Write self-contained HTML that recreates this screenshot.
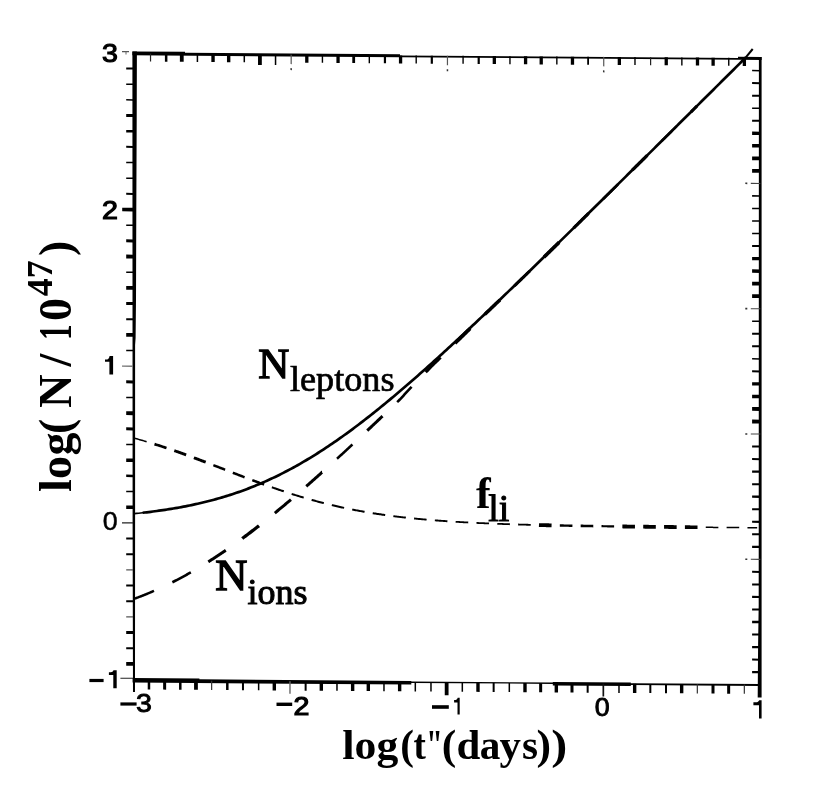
<!DOCTYPE html>
<html><head><meta charset="utf-8"><title>fig</title>
<style>
html,body{margin:0;padding:0;background:#fff;}
body{width:830px;height:792px;overflow:hidden;position:relative;}
svg{position:absolute;left:0;top:0;will-change:transform;}
text{fill:#000;}
.sans{font-family:"Liberation Sans",sans-serif;font-size:26px;stroke:#000;}
.serifb{font-family:"Liberation Serif",serif;font-weight:bold;}
.serif{font-family:"Liberation Serif",serif;}
</style></head><body>
<svg width="830" height="792" viewBox="0 0 830 792">
<rect x="0" y="0" width="830" height="792" fill="#fff"/>
<g transform="matrix(1,0.0072,0,1,0,-0.9684)">
<polygon points="132.40,51.40 136.90,51.40 136.70,120.00 136.30,210.00 136.00,300.00 135.60,338.00 135.10,345.00 135.10,523.00 135.00,692.00 133.00,692.00 132.60,523.00 132.50,300.00" fill="#000"/>
<polygon points="132.40,51.40 185.00,51.40 185.00,52.30 400.00,52.30 400.00,53.60 738.00,53.60 738.00,52.50 761.60,52.50 761.60,55.50 738.00,55.50 738.00,55.30 132.40,55.30" fill="#000"/>
<polygon points="758.90,52.50 761.60,52.50 761.60,640.00 761.60,693.00 757.70,693.00 758.10,640.00 758.70,600.00" fill="#000"/>
<polygon points="132.60,678.10 199.40,678.10 199.40,678.90 411.30,678.90 411.30,679.60 552.80,679.60 552.80,678.90 630.80,678.90 630.80,679.60 760.30,679.60 760.30,681.40 630.80,681.40 630.80,682.50 552.80,682.50 552.80,680.90 411.30,680.90 411.30,682.60 132.60,682.60" fill="#000"/>
<line x1="150.53" y1="53.50" x2="150.53" y2="61.50" stroke="#222" stroke-width="1.20"/>
<line x1="166.16" y1="53.50" x2="166.16" y2="61.50" stroke="#000" stroke-width="2.50"/>
<line x1="181.78" y1="53.50" x2="181.78" y2="61.50" stroke="#000" stroke-width="3.80"/>
<line x1="197.41" y1="53.50" x2="197.41" y2="61.50" stroke="#000" stroke-width="1.50"/>
<line x1="213.04" y1="53.50" x2="213.04" y2="61.50" stroke="#000" stroke-width="3.40"/>
<line x1="228.67" y1="53.50" x2="228.67" y2="61.50" stroke="#000" stroke-width="3.40"/>
<line x1="244.29" y1="53.50" x2="244.29" y2="61.50" stroke="#000" stroke-width="1.50"/>
<line x1="259.92" y1="53.50" x2="259.92" y2="64.00" stroke="#000" stroke-width="3.80"/>
<line x1="275.55" y1="53.50" x2="275.55" y2="64.00" stroke="#000" stroke-width="1.50"/>
<line x1="291.18" y1="53.50" x2="291.18" y2="63.00" stroke="#555" stroke-width="1.20"/>
<line x1="291.18" y1="67.00" x2="291.18" y2="69.00" stroke="#333" stroke-width="1.50"/>
<line x1="306.80" y1="53.50" x2="306.80" y2="61.50" stroke="#000" stroke-width="3.30"/>
<line x1="322.43" y1="53.50" x2="322.43" y2="61.50" stroke="#000" stroke-width="1.40"/>
<line x1="338.06" y1="53.50" x2="338.06" y2="61.50" stroke="#000" stroke-width="3.30"/>
<line x1="353.69" y1="53.50" x2="353.69" y2="61.50" stroke="#000" stroke-width="2.80"/>
<line x1="369.31" y1="53.50" x2="369.31" y2="61.50" stroke="#000" stroke-width="1.40"/>
<line x1="384.94" y1="53.50" x2="384.94" y2="61.50" stroke="#000" stroke-width="2.20"/>
<line x1="400.57" y1="53.50" x2="400.57" y2="61.50" stroke="#000" stroke-width="3.30"/>
<line x1="416.20" y1="53.50" x2="416.20" y2="61.50" stroke="#000" stroke-width="1.40"/>
<line x1="431.82" y1="53.50" x2="431.82" y2="61.50" stroke="#000" stroke-width="2.20"/>
<line x1="447.45" y1="53.50" x2="447.45" y2="63.00" stroke="#555" stroke-width="1.20"/>
<line x1="447.45" y1="67.00" x2="447.45" y2="69.00" stroke="#333" stroke-width="1.50"/>
<line x1="463.08" y1="53.50" x2="463.08" y2="61.50" stroke="#000" stroke-width="1.40"/>
<line x1="478.71" y1="53.50" x2="478.71" y2="61.50" stroke="#000" stroke-width="2.20"/>
<line x1="494.33" y1="53.50" x2="494.33" y2="61.50" stroke="#000" stroke-width="3.30"/>
<line x1="509.96" y1="53.50" x2="509.96" y2="61.50" stroke="#000" stroke-width="1.40"/>
<line x1="525.59" y1="53.50" x2="525.59" y2="61.50" stroke="#000" stroke-width="3.30"/>
<line x1="541.22" y1="53.50" x2="541.22" y2="61.50" stroke="#000" stroke-width="3.30"/>
<line x1="556.84" y1="53.50" x2="556.84" y2="61.50" stroke="#000" stroke-width="1.40"/>
<line x1="572.47" y1="53.50" x2="572.47" y2="61.50" stroke="#000" stroke-width="3.30"/>
<line x1="588.10" y1="53.50" x2="588.10" y2="61.50" stroke="#000" stroke-width="1.80"/>
<line x1="603.73" y1="53.50" x2="603.73" y2="63.00" stroke="#555" stroke-width="1.20"/>
<line x1="603.73" y1="67.00" x2="603.73" y2="69.00" stroke="#333" stroke-width="1.50"/>
<line x1="619.35" y1="53.50" x2="619.35" y2="61.50" stroke="#000" stroke-width="3.30"/>
<line x1="634.98" y1="53.50" x2="634.98" y2="61.50" stroke="#000" stroke-width="1.40"/>
<line x1="650.61" y1="53.50" x2="650.61" y2="61.50" stroke="#222" stroke-width="1.20"/>
<line x1="666.24" y1="53.50" x2="666.24" y2="61.50" stroke="#000" stroke-width="3.30"/>
<line x1="681.86" y1="53.50" x2="681.86" y2="61.50" stroke="#000" stroke-width="1.40"/>
<line x1="697.49" y1="53.50" x2="697.49" y2="61.50" stroke="#000" stroke-width="3.30"/>
<line x1="713.12" y1="53.50" x2="713.12" y2="61.50" stroke="#000" stroke-width="3.30"/>
<line x1="728.75" y1="53.50" x2="728.75" y2="61.50" stroke="#000" stroke-width="1.40"/>
<line x1="744.37" y1="53.50" x2="744.37" y2="61.50" stroke="#000" stroke-width="3.30"/>
<line x1="148.97" y1="680.20" x2="148.97" y2="689.40" stroke="#000" stroke-width="2.50"/>
<line x1="164.64" y1="680.20" x2="164.64" y2="689.40" stroke="#000" stroke-width="3.00"/>
<line x1="180.30" y1="680.20" x2="180.30" y2="689.40" stroke="#000" stroke-width="2.50"/>
<line x1="195.97" y1="680.20" x2="195.97" y2="689.40" stroke="#000" stroke-width="3.80"/>
<line x1="211.64" y1="680.20" x2="211.64" y2="689.40" stroke="#333" stroke-width="1.20"/>
<line x1="227.31" y1="680.20" x2="227.31" y2="689.40" stroke="#000" stroke-width="2.50"/>
<line x1="242.97" y1="680.20" x2="242.97" y2="689.40" stroke="#000" stroke-width="2.00"/>
<line x1="258.64" y1="680.20" x2="258.64" y2="689.40" stroke="#000" stroke-width="1.50"/>
<line x1="274.31" y1="680.20" x2="274.31" y2="689.40" stroke="#000" stroke-width="3.40"/>
<line x1="289.98" y1="680.20" x2="289.98" y2="692.70" stroke="#666" stroke-width="1.40"/>
<line x1="305.64" y1="680.20" x2="305.64" y2="689.40" stroke="#000" stroke-width="2.00"/>
<line x1="321.31" y1="680.20" x2="321.31" y2="689.40" stroke="#000" stroke-width="3.40"/>
<line x1="336.98" y1="680.20" x2="336.98" y2="689.40" stroke="#000" stroke-width="1.50"/>
<line x1="352.65" y1="680.20" x2="352.65" y2="689.40" stroke="#000" stroke-width="3.40"/>
<line x1="368.31" y1="680.20" x2="368.31" y2="689.40" stroke="#000" stroke-width="3.40"/>
<line x1="383.98" y1="680.20" x2="383.98" y2="689.40" stroke="#000" stroke-width="1.50"/>
<line x1="399.65" y1="680.20" x2="399.65" y2="689.40" stroke="#000" stroke-width="3.40"/>
<line x1="415.31" y1="680.20" x2="415.31" y2="689.40" stroke="#000" stroke-width="1.50"/>
<line x1="430.98" y1="680.20" x2="430.98" y2="689.40" stroke="#000" stroke-width="1.50"/>
<line x1="446.65" y1="680.20" x2="446.65" y2="693.00" stroke="#000" stroke-width="3.80"/>
<line x1="462.32" y1="680.20" x2="462.32" y2="689.40" stroke="#000" stroke-width="1.50"/>
<line x1="477.99" y1="680.20" x2="477.99" y2="689.40" stroke="#000" stroke-width="3.40"/>
<line x1="493.65" y1="680.20" x2="493.65" y2="689.40" stroke="#000" stroke-width="2.00"/>
<line x1="509.32" y1="680.20" x2="509.32" y2="689.40" stroke="#000" stroke-width="1.50"/>
<line x1="524.99" y1="680.20" x2="524.99" y2="689.40" stroke="#000" stroke-width="3.40"/>
<line x1="540.65" y1="680.20" x2="540.65" y2="689.40" stroke="#000" stroke-width="3.00"/>
<line x1="556.32" y1="680.20" x2="556.32" y2="689.40" stroke="#000" stroke-width="3.40"/>
<line x1="571.99" y1="680.20" x2="571.99" y2="689.40" stroke="#000" stroke-width="3.00"/>
<line x1="587.66" y1="680.20" x2="587.66" y2="689.40" stroke="#000" stroke-width="2.00"/>
<line x1="603.33" y1="680.20" x2="603.33" y2="693.20" stroke="#111" stroke-width="1.70"/>
<line x1="618.99" y1="680.20" x2="618.99" y2="689.40" stroke="#000" stroke-width="1.50"/>
<line x1="634.66" y1="680.20" x2="634.66" y2="689.40" stroke="#000" stroke-width="3.40"/>
<line x1="650.33" y1="680.20" x2="650.33" y2="689.40" stroke="#000" stroke-width="2.00"/>
<line x1="666.00" y1="680.20" x2="666.00" y2="689.40" stroke="#000" stroke-width="2.00"/>
<line x1="681.66" y1="680.20" x2="681.66" y2="689.40" stroke="#000" stroke-width="3.40"/>
<line x1="697.33" y1="680.20" x2="697.33" y2="689.40" stroke="#333" stroke-width="1.20"/>
<line x1="713.00" y1="680.20" x2="713.00" y2="689.40" stroke="#000" stroke-width="3.00"/>
<line x1="728.66" y1="680.20" x2="728.66" y2="689.40" stroke="#000" stroke-width="3.00"/>
<line x1="744.33" y1="680.20" x2="744.33" y2="689.40" stroke="#333" stroke-width="1.20"/>
<line x1="126.20" y1="68.57" x2="133.00" y2="68.57" stroke="#000" stroke-width="2.00"/>
<line x1="126.20" y1="84.23" x2="133.00" y2="84.23" stroke="#000" stroke-width="1.50"/>
<line x1="126.20" y1="99.90" x2="133.00" y2="99.90" stroke="#000" stroke-width="1.50"/>
<line x1="126.20" y1="115.57" x2="133.00" y2="115.57" stroke="#000" stroke-width="3.00"/>
<line x1="126.20" y1="131.24" x2="133.00" y2="131.24" stroke="#000" stroke-width="2.50"/>
<line x1="126.20" y1="146.91" x2="133.00" y2="146.91" stroke="#000" stroke-width="2.00"/>
<line x1="126.20" y1="162.57" x2="133.00" y2="162.57" stroke="#000" stroke-width="1.50"/>
<line x1="126.20" y1="178.24" x2="133.00" y2="178.24" stroke="#000" stroke-width="1.50"/>
<line x1="126.20" y1="193.91" x2="133.00" y2="193.91" stroke="#000" stroke-width="2.00"/>
<line x1="122.20" y1="209.58" x2="133.00" y2="209.58" stroke="#000" stroke-width="3.70"/>
<line x1="126.20" y1="225.24" x2="133.00" y2="225.24" stroke="#000" stroke-width="1.50"/>
<line x1="126.20" y1="240.91" x2="133.00" y2="240.91" stroke="#000" stroke-width="3.00"/>
<line x1="126.20" y1="256.58" x2="133.00" y2="256.58" stroke="#000" stroke-width="3.80"/>
<line x1="126.20" y1="272.25" x2="133.00" y2="272.25" stroke="#000" stroke-width="1.50"/>
<line x1="126.20" y1="287.91" x2="133.00" y2="287.91" stroke="#000" stroke-width="3.80"/>
<line x1="126.20" y1="303.58" x2="133.00" y2="303.58" stroke="#000" stroke-width="3.00"/>
<line x1="126.20" y1="319.25" x2="133.00" y2="319.25" stroke="#000" stroke-width="2.00"/>
<line x1="126.20" y1="334.91" x2="133.00" y2="334.91" stroke="#000" stroke-width="3.80"/>
<line x1="126.20" y1="350.58" x2="133.00" y2="350.58" stroke="#000" stroke-width="1.50"/>
<line x1="122.00" y1="366.25" x2="133.00" y2="366.25" stroke="#777" stroke-width="1.40"/>
<line x1="126.20" y1="381.92" x2="133.00" y2="381.92" stroke="#000" stroke-width="3.00"/>
<line x1="126.20" y1="397.59" x2="133.00" y2="397.59" stroke="#000" stroke-width="1.50"/>
<line x1="126.20" y1="413.25" x2="133.00" y2="413.25" stroke="#000" stroke-width="3.80"/>
<line x1="126.20" y1="428.92" x2="133.00" y2="428.92" stroke="#000" stroke-width="3.00"/>
<line x1="126.20" y1="444.59" x2="133.00" y2="444.59" stroke="#000" stroke-width="1.50"/>
<line x1="126.20" y1="460.25" x2="133.00" y2="460.25" stroke="#000" stroke-width="3.40"/>
<line x1="126.20" y1="475.92" x2="133.00" y2="475.92" stroke="#000" stroke-width="2.50"/>
<line x1="126.20" y1="491.59" x2="133.00" y2="491.59" stroke="#000" stroke-width="1.50"/>
<line x1="126.20" y1="507.26" x2="133.00" y2="507.26" stroke="#000" stroke-width="3.40"/>
<line x1="122.00" y1="522.92" x2="133.00" y2="522.92" stroke="#222" stroke-width="1.20"/>
<line x1="126.20" y1="538.59" x2="133.00" y2="538.59" stroke="#000" stroke-width="2.00"/>
<line x1="126.20" y1="554.26" x2="133.00" y2="554.26" stroke="#000" stroke-width="2.00"/>
<line x1="126.20" y1="569.93" x2="133.00" y2="569.93" stroke="#555" stroke-width="1.20"/>
<line x1="126.20" y1="585.60" x2="133.00" y2="585.60" stroke="#000" stroke-width="2.00"/>
<line x1="126.20" y1="601.26" x2="133.00" y2="601.26" stroke="#000" stroke-width="2.00"/>
<line x1="126.20" y1="616.93" x2="133.00" y2="616.93" stroke="#555" stroke-width="1.20"/>
<line x1="126.20" y1="632.60" x2="133.00" y2="632.60" stroke="#000" stroke-width="3.00"/>
<line x1="126.20" y1="648.26" x2="133.00" y2="648.26" stroke="#000" stroke-width="2.00"/>
<line x1="126.20" y1="663.93" x2="133.00" y2="663.93" stroke="#000" stroke-width="3.80"/>
<line x1="122.00" y1="51.70" x2="129.00" y2="51.70" stroke="#555" stroke-width="1.20"/>
<line x1="126.00" y1="51.50" x2="126.00" y2="54.50" stroke="#666" stroke-width="1.00"/>
<line x1="120.40" y1="678.30" x2="133.00" y2="678.30" stroke="#222" stroke-width="1.10"/>
<line x1="752.10" y1="66.13" x2="760.30" y2="66.13" stroke="#000" stroke-width="1.50"/>
<line x1="752.10" y1="78.66" x2="760.30" y2="78.66" stroke="#000" stroke-width="2.00"/>
<line x1="752.10" y1="91.20" x2="760.30" y2="91.20" stroke="#000" stroke-width="2.00"/>
<line x1="752.10" y1="103.73" x2="760.30" y2="103.73" stroke="#000" stroke-width="1.50"/>
<line x1="752.10" y1="116.26" x2="760.30" y2="116.26" stroke="#000" stroke-width="2.00"/>
<line x1="752.10" y1="128.79" x2="760.30" y2="128.79" stroke="#000" stroke-width="3.30"/>
<line x1="752.10" y1="141.32" x2="760.30" y2="141.32" stroke="#000" stroke-width="3.50"/>
<line x1="752.10" y1="153.86" x2="760.30" y2="153.86" stroke="#000" stroke-width="3.80"/>
<line x1="752.10" y1="166.39" x2="760.30" y2="166.39" stroke="#000" stroke-width="3.80"/>
<line x1="750.80" y1="178.92" x2="760.30" y2="178.92" stroke="#444" stroke-width="1.10"/>
<line x1="745.30" y1="178.92" x2="747.30" y2="178.92" stroke="#333" stroke-width="1.60"/>
<line x1="752.10" y1="191.45" x2="760.30" y2="191.45" stroke="#000" stroke-width="1.60"/>
<line x1="752.10" y1="203.98" x2="760.30" y2="203.98" stroke="#000" stroke-width="1.60"/>
<line x1="752.10" y1="216.52" x2="760.30" y2="216.52" stroke="#000" stroke-width="1.60"/>
<line x1="752.10" y1="229.05" x2="760.30" y2="229.05" stroke="#000" stroke-width="1.60"/>
<line x1="752.10" y1="241.58" x2="760.30" y2="241.58" stroke="#000" stroke-width="2.00"/>
<line x1="752.10" y1="254.11" x2="760.30" y2="254.11" stroke="#000" stroke-width="3.30"/>
<line x1="752.10" y1="266.64" x2="760.30" y2="266.64" stroke="#000" stroke-width="3.50"/>
<line x1="752.10" y1="279.18" x2="760.30" y2="279.18" stroke="#000" stroke-width="3.80"/>
<line x1="752.10" y1="291.71" x2="760.30" y2="291.71" stroke="#000" stroke-width="3.80"/>
<line x1="750.80" y1="304.24" x2="760.30" y2="304.24" stroke="#444" stroke-width="1.10"/>
<line x1="745.30" y1="304.24" x2="747.30" y2="304.24" stroke="#333" stroke-width="1.60"/>
<line x1="752.10" y1="316.77" x2="760.30" y2="316.77" stroke="#000" stroke-width="1.50"/>
<line x1="752.10" y1="329.30" x2="760.30" y2="329.30" stroke="#000" stroke-width="2.00"/>
<line x1="752.10" y1="341.84" x2="760.30" y2="341.84" stroke="#000" stroke-width="2.00"/>
<line x1="752.10" y1="354.37" x2="760.30" y2="354.37" stroke="#000" stroke-width="1.50"/>
<line x1="752.10" y1="366.90" x2="760.30" y2="366.90" stroke="#000" stroke-width="2.00"/>
<line x1="752.10" y1="379.43" x2="760.30" y2="379.43" stroke="#000" stroke-width="3.30"/>
<line x1="752.10" y1="391.96" x2="760.30" y2="391.96" stroke="#000" stroke-width="3.50"/>
<line x1="752.10" y1="404.50" x2="760.30" y2="404.50" stroke="#000" stroke-width="3.80"/>
<line x1="752.10" y1="417.03" x2="760.30" y2="417.03" stroke="#000" stroke-width="3.80"/>
<line x1="750.80" y1="429.56" x2="760.30" y2="429.56" stroke="#444" stroke-width="1.10"/>
<line x1="745.30" y1="429.56" x2="747.30" y2="429.56" stroke="#333" stroke-width="1.60"/>
<line x1="752.10" y1="442.09" x2="760.30" y2="442.09" stroke="#000" stroke-width="2.00"/>
<line x1="752.10" y1="454.62" x2="760.30" y2="454.62" stroke="#000" stroke-width="2.00"/>
<line x1="752.10" y1="467.16" x2="760.30" y2="467.16" stroke="#000" stroke-width="2.20"/>
<line x1="752.10" y1="479.69" x2="760.30" y2="479.69" stroke="#000" stroke-width="2.00"/>
<line x1="752.10" y1="492.22" x2="760.30" y2="492.22" stroke="#000" stroke-width="2.40"/>
<line x1="752.10" y1="504.75" x2="760.30" y2="504.75" stroke="#000" stroke-width="2.00"/>
<line x1="752.10" y1="517.28" x2="760.30" y2="517.28" stroke="#000" stroke-width="2.20"/>
<line x1="752.10" y1="529.82" x2="760.30" y2="529.82" stroke="#000" stroke-width="2.00"/>
<line x1="752.10" y1="542.35" x2="760.30" y2="542.35" stroke="#000" stroke-width="2.20"/>
<line x1="750.80" y1="554.88" x2="760.30" y2="554.88" stroke="#444" stroke-width="1.10"/>
<line x1="745.30" y1="554.88" x2="747.30" y2="554.88" stroke="#333" stroke-width="1.60"/>
<line x1="752.10" y1="567.41" x2="760.30" y2="567.41" stroke="#000" stroke-width="2.00"/>
<line x1="752.10" y1="579.94" x2="760.30" y2="579.94" stroke="#000" stroke-width="2.00"/>
<line x1="752.10" y1="592.48" x2="760.30" y2="592.48" stroke="#000" stroke-width="2.20"/>
<line x1="752.10" y1="605.01" x2="760.30" y2="605.01" stroke="#000" stroke-width="2.00"/>
<line x1="752.10" y1="617.54" x2="760.30" y2="617.54" stroke="#000" stroke-width="2.40"/>
<line x1="752.10" y1="630.07" x2="760.30" y2="630.07" stroke="#000" stroke-width="2.00"/>
<line x1="752.10" y1="642.60" x2="760.30" y2="642.60" stroke="#000" stroke-width="2.20"/>
<line x1="752.10" y1="655.14" x2="760.30" y2="655.14" stroke="#000" stroke-width="2.00"/>
<line x1="752.10" y1="667.67" x2="760.30" y2="667.67" stroke="#000" stroke-width="2.20"/>
</g>
<path d="M134.50 513.62 L136.54 513.41 L138.58 513.20 L140.62 512.98 L142.65 512.75 L144.69 512.52" fill="none" stroke="#000" stroke-width="1.6"/>
<path d="M142.65 512.75 L144.69 512.52 L146.73 512.29 L148.77 512.04 L150.81 511.79 L152.85 511.53 L154.88 511.27 L156.92 510.99 L158.96 510.71 L161.00 510.43 L163.04 510.13 L165.07 509.83 L167.11 509.51 L169.15 509.19 L171.19 508.87 L173.23 508.53 L175.27 508.18 L177.31 507.83 L179.34 507.46 L181.38 507.09 L183.42 506.70 L185.46 506.31 L187.50 505.91 L189.54 505.50 L191.57 505.07 L193.61 504.64 L195.65 504.19 L197.69 503.74 L199.73 503.27 L201.76 502.80 L203.80 502.31 L205.84 501.81 L207.88 501.30 L209.92 500.77 L211.96 500.24 L213.99 499.69 L216.03 499.13 L218.07 498.56 L220.11 497.97 L222.15 497.38 L224.19 496.76 L226.22 496.14 L228.26 495.50 L230.30 494.85 L232.34 494.19 L234.38 493.51 L236.42 492.82 L238.46 492.11 L240.49 491.40 L242.53 490.66 L244.57 489.91 L246.61 489.15 L248.65 488.37 L250.69 487.58 L252.72 486.78 L254.76 485.95 L256.80 485.12 L258.84 484.27 L260.88 483.40 L262.91 482.52 L264.95 481.63 L266.99 480.71 L269.03 479.79 L271.07 478.85 L273.11 477.89 L275.14 476.92 L277.18 475.93 L279.22 474.93 L281.26 473.91 L283.30 472.87 L285.34 471.82 L287.37 470.76 L289.41 469.68 L291.45 468.58 L293.49 467.47 L295.53 466.35 L297.57 465.21 L299.61 464.05 L301.64 462.88 L303.68 461.70 L305.72 460.50 L307.76 459.28 L309.80 458.05 L311.83 456.81 L313.87 455.55 L315.91 454.28 L317.95 452.99 L319.99 451.69 L322.03 450.37 L324.06 449.04 L326.10 447.70 L328.14 446.35 L330.18 444.98 L332.22 443.59 L334.26 442.20 L336.29 440.79 L338.33 439.36 L340.37 437.93 L342.41 436.48 L344.45 435.02 L346.49 433.55 L348.52 432.06 L350.56 430.57 L352.60 429.06 L354.64 427.54 L356.68 426.01 L358.72 424.47 L360.75 422.91 L362.79 421.35 L364.83 419.77 L366.87 418.19 L368.91 416.59 L370.95 414.99 L372.99 413.37 L375.02 411.75 L377.06 410.11 L379.10 408.47 L381.14 406.81 L383.18 405.15 L385.22 403.48 L387.25 401.80 L389.29 400.11 L391.33 398.41 L393.37 396.70 L395.41 394.99 L397.44 393.27 L399.48 391.54 L401.52 389.80 L403.56 388.06 L405.60 386.30 L407.64 384.55 L409.68 382.78 L411.71 381.01 L413.75 379.23 L415.79 377.44 L417.83 375.65 L419.87 373.85 L421.90 372.05 L423.94 370.24 L425.98 368.42 L428.02 366.60 L430.06 364.77 L432.10 362.94 L434.13 361.10 L436.17 359.26 L438.21 357.41 L440.25 355.56 L442.29 353.70 L444.33 351.84 L446.37 349.97 L448.40 348.10 L450.44 346.22 L452.48 344.34 L454.52 342.46 L456.56 340.57 L458.60 338.68 L460.63 336.79 L462.67 334.89 L464.71 332.98 L466.75 331.08 L468.79 329.17 L470.82 327.25 L472.86 325.34 L474.90 323.42 L476.94 321.50 L478.98 319.57 L481.02 317.64 L483.05 315.71 L485.09 313.78 L487.13 311.84 L489.17 309.90 L491.21 307.96 L493.25 306.02 L495.28 304.07 L497.32 302.12 L499.36 300.17 L501.40 298.22 L503.44 296.26 L505.48 294.31 L507.51 292.35 L509.55 290.38 L511.59 288.42 L513.63 286.46 L515.67 284.49 L517.71 282.52 L519.74 280.55 L521.78 278.58 L523.82 276.60 L525.86 274.63 L527.90 272.65 L529.94 270.67 L531.97 268.69 L534.01 266.71 L536.05 264.73 L538.09 262.75 L540.13 260.76 L542.17 258.77 L544.20 256.79 L546.24 254.80 L548.28 252.81 L550.32 250.82 L552.36 248.83 L554.40 246.83 L556.43 244.84 L558.47 242.84 L560.51 240.85 L562.55 238.85 L564.59 236.85 L566.63 234.85 L568.66 232.85 L570.70 230.85 L572.74 228.85 L574.78 226.85 L576.82 224.85 L578.86 222.84 L580.89 220.84 L582.93 218.83 L584.97 216.83 L587.01 214.82 L589.05 212.81 L591.09 210.81 L593.12 208.80 L595.16 206.79 L597.20 204.78 L599.24 202.77 L601.28 200.76 L603.32 198.75 L605.36 196.74 L607.39 194.72 L609.43 192.71 L611.47 190.70 L613.51 188.69 L615.55 186.67 L617.59 184.66 L619.62 182.64 L621.66 180.63 L623.70 178.61 L625.74 176.60 L627.78 174.58 L629.82 172.56 L631.85 170.55 L633.89 168.53 L635.93 166.51 L637.97 164.49 L640.01 162.48 L642.04 160.46 L644.08 158.44 L646.12 156.42 L648.16 154.40 L650.20 152.38 L652.24 150.36 L654.27 148.34 L656.31 146.32 L658.35 144.30 L660.39 142.28 L662.43 140.26 L664.47 138.24 L666.50 136.22 L668.54 134.19 L670.58 132.17 L672.62 130.15 L674.66 128.13 L676.70 126.11 L678.74 124.08 L680.77 122.06 L682.81 120.04 L684.85 118.01 L686.89 115.99 L688.93 113.97 L690.96 111.94 L693.00 109.92 L695.04 107.90 L697.08 105.87 L699.12 103.85 L701.16 101.83 L703.19 99.80 L705.23 97.78 L707.27 95.75 L709.31 93.73 L711.35 91.70 L713.39 89.68 L715.42 87.65 L717.46 85.63 L719.50 83.60 L721.54 81.58 L723.58 79.55 L725.62 77.53 L727.65 75.50 L729.69 73.48 L731.73 71.45 L733.77 69.43 L735.81 67.40 L737.85 65.37 L739.88 63.35 L741.92 61.32 L743.96 59.30 L746.00 57.27" fill="none" stroke="#000" stroke-width="2.7"/>
<path d="M745.0 58.4 L752.7 49.0" fill="none" stroke="#000" stroke-width="2.0"/>
<path d="M134.50 598.70 L135.44 598.35 L136.38 598.00 L137.31 597.65 L138.25 597.30 L139.19 596.94 L140.12 596.58 L141.06 596.22 L142.00 595.85 L142.94 595.48 L143.88 595.11 L144.81 594.73 L145.75 594.35 L146.69 593.97 L147.62 593.58 L148.56 593.20 L149.50 592.80 L150.44 592.41 L151.38 592.01 L152.31 591.61 L153.25 591.21 L153.99 590.88" fill="none" stroke="#000" stroke-width="2.50"/>
<path d="M172.36 582.26 L172.94 581.97 L173.87 581.49 L174.81 581.01 L175.75 580.53 L176.69 580.05 L177.62 579.56 L178.56 579.07 L179.50 578.57 L180.44 578.07 L181.37 577.57 L182.31 577.07 L183.25 576.56 L184.19 576.05 L185.12 575.53 L186.06 575.02 L187.00 574.50 L187.94 573.97 L188.87 573.45 L189.81 572.92 L190.75 572.38 L190.86 572.32" fill="none" stroke="#000" stroke-width="2.60"/>
<path d="M208.25 561.85 L208.56 561.65 L209.50 561.06 L210.44 560.46 L211.38 559.86 L212.31 559.26 L213.25 558.65 L214.19 558.04 L215.12 557.43 L216.06 556.81 L217.00 556.19 L217.94 555.57 L218.88 554.95 L219.81 554.32 L220.75 553.69 L221.69 553.06 L222.62 552.42 L223.56 551.78 L224.50 551.14 L225.44 550.50 L225.77 550.27" fill="none" stroke="#000" stroke-width="3.00"/>
<path d="M242.28 538.47 L242.31 538.44 L243.25 537.75 L244.19 537.05 L245.13 536.36 L246.06 535.65 L247.00 534.95 L247.94 534.25 L248.88 533.54 L249.81 532.83 L250.75 532.11 L251.69 531.40 L252.63 530.68 L253.56 529.96 L254.50 529.24 L255.44 528.51 L256.38 527.79 L257.31 527.06 L258.25 526.33 L258.99 525.75" fill="none" stroke="#000" stroke-width="3.30"/>
<path d="M274.83 513.05 L275.12 512.81 L276.06 512.04 L277.00 511.27 L277.94 510.50 L278.88 509.72 L279.81 508.95 L280.75 508.17 L281.69 507.39 L282.62 506.60 L283.56 505.82 L284.50 505.04 L285.44 504.25 L286.38 503.46 L287.31 502.67 L288.25 501.88 L289.19 501.08 L290.12 500.29 L290.95 499.59" fill="none" stroke="#000" stroke-width="3.00"/>
<path d="M306.30 486.31 L307.00 485.70 L307.94 484.88 L308.88 484.06 L309.81 483.23 L310.75 482.40 L311.69 481.57 L312.62 480.74 L313.56 479.91 L314.50 479.08 L315.44 478.24 L316.38 477.41 L317.31 476.57 L318.25 475.74 L319.19 474.90 L320.12 474.06 L321.06 473.22 L322.00 472.37 L322.01 472.37" fill="none" stroke="#000" stroke-width="3.00"/>
<path d="M337.03 458.72 L337.94 457.90 L338.88 457.04 L339.81 456.17 L340.75 455.31 L341.69 454.45 L342.62 453.58 L343.56 452.72 L344.50 451.85 L345.44 450.99 L346.38 450.12 L347.31 449.25 L348.25 448.38 L349.19 447.51 L350.12 446.64 L351.06 445.77 L352.00 444.90 L352.46 444.47" fill="none" stroke="#000" stroke-width="2.60"/>
<path d="M367.27 430.59 L367.94 429.95 L368.88 429.07 L369.81 428.18 L370.75 427.30 L371.69 426.41 L372.62 425.52 L373.56 424.63 L374.50 423.74 L375.44 422.86 L376.38 421.97 L377.31 421.08 L378.25 420.18 L379.19 419.29 L380.12 418.40 L381.06 417.51 L382.00 416.61 L382.50 416.13" fill="none" stroke="#000" stroke-width="3.00"/>
<path d="M397.17 402.10 L397.94 401.36 L398.88 400.46 L399.81 399.55 L400.75 398.57 L401.69 397.55 L402.63 396.53 L403.56 395.51 L404.50 394.49 L405.44 393.48 L406.38 392.47 L407.31 391.46 L408.25 390.46 L409.19 389.45 L410.13 388.45 L411.06 387.45 L411.62 386.86" fill="none" stroke="#000" stroke-width="2.60"/>
<path d="M425.64 372.18 L426.06 371.74 L427.00 370.78 L427.94 369.81 L428.88 368.85 L429.81 367.88 L430.75 366.92 L431.69 365.98 L432.62 365.06 L433.56 364.15 L434.50 363.23 L435.44 362.32 L436.38 361.40 L437.31 360.49 L438.25 359.57 L439.19 358.66 L440.13 357.74 L440.51 357.37" fill="none" stroke="#000" stroke-width="3.20"/>
<path d="M455.06 343.21 L455.12 343.15 L456.06 342.23 L457.00 341.32 L457.94 340.41 L458.88 339.50 L459.81 338.59 L460.75 337.68 L461.69 336.77 L462.62 335.86 L463.56 334.95 L464.50 334.03 L465.44 333.12 L466.38 332.21 L467.31 331.30 L468.25 330.39 L469.19 329.48 L470.12 328.57" fill="none" stroke="#000" stroke-width="3.60"/>
<path d="M484.74 314.49 L485.13 314.13 L486.06 313.23 L487.00 312.34 L487.94 311.44 L488.87 310.54 L489.81 309.65 L490.75 308.75 L491.69 307.85 L492.63 306.95 L493.56 306.05 L494.50 305.15 L495.44 304.25 L496.38 303.35 L497.31 302.45 L498.25 301.55 L499.19 300.65 L499.90 299.96" fill="none" stroke="#000" stroke-width="3.40"/>
<path d="M514.51 285.86 L515.12 285.26 L516.06 284.35 L517.00 283.44 L517.94 282.53 L518.88 281.62 L519.81 280.71 L520.75 279.80 L521.69 278.89 L522.62 277.98 L523.56 277.07 L524.50 276.16 L525.44 275.25 L526.38 274.34 L527.31 273.43 L528.25 272.51 L529.19 271.60 L529.57 271.23" fill="none" stroke="#000" stroke-width="3.00"/>
<path d="M544.10 257.05 L544.19 256.97 L545.12 256.05 L546.06 255.13 L547.00 254.21 L547.94 253.30 L548.88 252.38 L549.81 251.46 L550.75 250.54 L551.69 249.63 L552.62 248.71 L553.56 247.79 L554.50 246.87 L555.44 245.95 L556.38 245.03 L557.31 244.11 L558.25 243.19 L559.10 242.36" fill="none" stroke="#000" stroke-width="3.60"/>
<path d="M573.58 228.13 L574.19 227.54 L575.12 226.61 L576.06 225.69 L577.00 224.77 L577.94 223.84 L578.88 222.92 L579.81 222.00 L580.75 221.08 L581.69 220.15 L582.62 219.23 L583.56 218.30 L584.50 217.38 L585.44 216.46 L586.38 215.53 L587.31 214.61 L588.25 213.68 L588.55 213.39" fill="none" stroke="#000" stroke-width="3.20"/>
<path d="M602.99 199.13 L603.25 198.88 L604.19 197.96 L605.12 197.03 L606.06 196.10 L607.00 195.18 L607.94 194.25 L608.88 193.32 L609.81 192.40 L610.75 191.47 L611.69 190.54 L612.62 189.62 L613.56 188.69 L614.50 187.76 L615.44 186.84 L616.38 185.91 L617.31 184.98 L617.93 184.37" fill="none" stroke="#000" stroke-width="2.60"/>
<path d="M632.36 170.09 L633.25 169.21 L634.19 168.28 L635.12 167.35 L636.06 166.42 L637.00 165.49 L637.94 164.57 L638.88 163.64 L639.81 162.71 L640.75 161.78 L641.69 160.85 L642.62 159.92 L643.56 158.99 L644.50 158.06 L645.44 157.13 L646.38 156.21 L647.28 155.31" fill="none" stroke="#000" stroke-width="3.20"/>
<path d="M661.69 141.02 L662.31 140.40 L663.25 139.47 L664.19 138.54 L665.12 137.61 L666.06 136.68 L667.00 135.75 L667.94 134.82 L668.88 133.89 L669.81 132.96 L670.75 132.03 L671.69 131.10 L672.62 130.17 L673.56 129.24 L674.50 128.31 L675.44 127.38 L676.38 126.45 L676.60 126.23" fill="none" stroke="#000" stroke-width="2.40"/>
<path d="M691.00 111.92 L691.38 111.56 L692.31 110.63 L693.25 109.69 L694.19 108.76 L695.13 107.83 L696.06 106.90 L697.00 105.97" fill="none" stroke="#000" stroke-width="3.00"/>
<path d="M134.50 438.22 L135.54 438.51 L136.58 438.79 L137.61 439.08 L138.65 439.38 L139.69 439.67 L140.73 439.97 L141.76 440.26 L142.80 440.56 L143.84 440.87 L144.88 441.17 L145.92 441.48 L146.61 441.69" fill="none" stroke="#000" stroke-width="1.50"/>
<path d="M154.50 444.10 L155.26 444.34 L156.29 444.67 L157.33 444.99 L158.37 445.33 L159.41 445.66 L160.44 446.00 L161.48 446.33 L162.52 446.67 L163.56 447.02 L164.60 447.36 L165.63 447.70 L166.49 447.99" fill="none" stroke="#000" stroke-width="2.70"/>
<path d="M174.29 450.66 L174.97 450.89 L176.01 451.25 L177.05 451.62 L178.09 451.98 L179.12 452.35 L180.16 452.72 L181.20 453.09 L182.24 453.46 L183.27 453.84 L184.31 454.21 L185.35 454.59 L186.16 454.88" fill="none" stroke="#000" stroke-width="2.90"/>
<path d="M193.90 457.74 L194.69 458.03 L195.73 458.42 L196.77 458.81 L197.80 459.20 L198.84 459.59 L199.88 459.99 L200.92 460.38 L201.95 460.77 L202.99 461.17 L204.03 461.56 L205.07 461.96 L205.69 462.20" fill="none" stroke="#000" stroke-width="2.90"/>
<path d="M213.39 465.16 L214.41 465.56 L215.45 465.96 L216.48 466.36 L217.52 466.77 L218.56 467.17 L219.60 467.57 L220.63 467.98 L221.67 468.38 L222.71 468.78 L223.75 469.19 L224.79 469.59 L225.13 469.72" fill="none" stroke="#000" stroke-width="2.50"/>
<path d="M232.82 472.71 L233.09 472.81 L234.12 473.22 L235.16 473.62 L236.20 474.02 L237.24 474.42 L238.28 474.82 L239.31 475.22 L240.35 475.62 L241.39 476.02 L242.43 476.42 L243.46 476.81 L244.50 477.21 L244.58 477.24" fill="none" stroke="#000" stroke-width="2.50"/>
<path d="M252.30 480.16 L252.80 480.35 L253.84 480.74 L254.88 481.13 L255.92 481.52 L256.96 481.90 L257.99 482.28 L259.03 482.67 L260.07 483.05 L261.11 483.43 L262.14 483.81 L263.18 484.19 L264.12 484.52" fill="none" stroke="#000" stroke-width="2.50"/>
<path d="M271.89 487.30 L272.52 487.52 L273.56 487.88 L274.60 488.24 L275.64 488.60 L276.67 488.96 L277.71 489.32 L278.75 489.67 L279.79 490.02 L280.82 490.37 L281.86 490.72 L282.90 491.07 L283.81 491.37" fill="none" stroke="#000" stroke-width="2.10"/>
<path d="M291.66 493.92 L292.24 494.11 L293.28 494.44 L294.32 494.76 L295.35 495.09 L296.39 495.41 L297.43 495.73 L298.47 496.04 L299.50 496.36 L300.54 496.67 L301.58 496.98 L302.62 497.29 L303.65 497.60 L303.70 497.61" fill="none" stroke="#000" stroke-width="2.00"/>
<path d="M311.63 499.89 L311.96 499.98 L312.99 500.27 L314.03 500.55 L315.07 500.83 L316.11 501.11 L317.15 501.39 L318.18 501.67 L319.22 501.94 L320.26 502.22 L321.30 502.49 L322.33 502.75 L323.37 503.02 L323.81 503.13" fill="none" stroke="#000" stroke-width="2.00"/>
<path d="M331.82 505.10 L332.71 505.31 L333.75 505.55 L334.79 505.79 L335.83 506.03 L336.86 506.27 L337.90 506.50 L338.94 506.73 L339.98 506.96 L341.01 507.19 L342.05 507.42 L343.09 507.64 L344.11 507.86" fill="none" stroke="#000" stroke-width="2.00"/>
<path d="M352.20 509.51 L352.43 509.56 L353.47 509.76 L354.51 509.96 L355.54 510.16 L356.58 510.36 L357.62 510.55 L358.66 510.75 L359.69 510.94 L360.73 511.13 L361.77 511.31 L362.81 511.50 L363.85 511.68 L364.58 511.81" fill="none" stroke="#000" stroke-width="2.00"/>
<path d="M372.72 513.17 L373.18 513.24 L374.22 513.40 L375.26 513.57 L376.30 513.73 L377.34 513.89 L378.37 514.04 L379.41 514.20 L380.45 514.35 L381.49 514.50 L382.52 514.65 L383.56 514.80 L384.60 514.95 L385.18 515.03" fill="none" stroke="#000" stroke-width="2.00"/>
<path d="M393.36 516.12 L393.94 516.20 L394.98 516.33 L396.02 516.46 L397.05 516.58 L398.09 516.71 L399.13 516.83 L400.17 516.96 L401.20 517.08 L402.24 517.20 L403.28 517.32 L404.32 517.44 L405.36 517.55 L405.87 517.61" fill="none" stroke="#000" stroke-width="1.90"/>
<path d="M414.08 518.47 L414.70 518.54 L415.73 518.64 L416.77 518.74 L417.81 518.84 L418.85 518.94 L419.88 519.04 L420.92 519.14 L421.96 519.23 L423.00 519.33 L424.04 519.42 L425.07 519.51 L426.11 519.60 L426.62 519.65" fill="none" stroke="#000" stroke-width="1.90"/>
<path d="M434.84 520.33 L435.45 520.37 L436.49 520.45 L437.53 520.53 L438.56 520.61 L439.60 520.69 L440.64 520.77 L441.68 520.84 L442.71 520.92 L443.75 520.99 L444.79 521.06 L445.83 521.14 L446.87 521.21 L447.41 521.24" fill="none" stroke="#000" stroke-width="1.90"/>
<path d="M455.64 521.78 L456.21 521.81 L457.24 521.87 L458.28 521.93 L459.32 522.00 L460.36 522.06 L461.39 522.12 L462.43 522.18 L463.47 522.23 L464.51 522.29 L465.55 522.35 L466.58 522.41 L467.62 522.46 L468.22 522.49" fill="none" stroke="#000" stroke-width="1.80"/>
<path d="M476.46 522.91 L476.96 522.93 L478.00 522.98 L479.04 523.03 L480.07 523.08 L481.11 523.12 L482.15 523.17 L483.19 523.22 L484.23 523.26 L485.26 523.31 L486.30 523.35 L487.34 523.40 L488.38 523.44 L489.05 523.47" fill="none" stroke="#000" stroke-width="1.80"/>
<path d="M497.29 523.79 L497.72 523.81 L498.75 523.85 L499.79 523.89 L500.83 523.93 L501.87 523.96 L502.90 524.00 L503.94 524.04 L504.98 524.07 L506.02 524.11 L507.06 524.14 L508.09 524.18 L509.13 524.21 L509.89 524.24" fill="none" stroke="#000" stroke-width="1.80"/>
<path d="M518.13 524.49 L518.47 524.50 L519.51 524.54 L520.55 524.57 L521.58 524.60 L522.62 524.63 L523.66 524.66 L524.70 524.68 L525.74 524.71 L526.77 524.74 L527.81 524.77 L528.85 524.80 L529.89 524.83 L530.73 524.85" fill="none" stroke="#000" stroke-width="1.80"/>
<path d="M538.97 525.05 L539.23 525.06 L540.26 525.08 L541.30 525.11 L542.34 525.13 L543.38 525.16 L544.42 525.18 L545.45 525.20 L546.49 525.23 L547.53 525.25 L548.57 525.27 L549.60 525.30 L550.64 525.32 L551.57 525.34" fill="none" stroke="#000" stroke-width="3.80"/>
<path d="M559.82 525.51 L559.98 525.51 L561.02 525.53 L562.06 525.55 L563.10 525.57 L564.13 525.59 L565.17 525.61 L566.21 525.63 L567.25 525.65 L568.28 525.67 L569.32 525.69 L570.36 525.71 L571.40 525.72 L572.42 525.74" fill="none" stroke="#000" stroke-width="2.40"/>
<path d="M580.67 525.88 L580.74 525.88 L581.77 525.90 L582.81 525.92 L583.85 525.93 L584.89 525.95 L585.93 525.97 L586.96 525.98 L588.00 526.00 L589.04 526.02 L590.08 526.03 L591.11 526.05 L592.15 526.06 L593.19 526.08 L593.26 526.08" fill="none" stroke="#000" stroke-width="2.60"/>
<path d="M601.51 526.20 L602.53 526.21 L603.57 526.23 L604.61 526.24 L605.64 526.26 L606.68 526.27 L607.72 526.28 L608.76 526.30 L609.79 526.31 L610.83 526.32 L611.87 526.34 L612.91 526.35 L613.95 526.37 L614.11 526.37" fill="none" stroke="#000" stroke-width="2.20"/>
<path d="M622.36 526.47 L623.29 526.48 L624.32 526.49 L625.36 526.51 L626.40 526.52 L627.44 526.53 L628.47 526.54 L629.51 526.56 L630.55 526.57 L631.59 526.58 L632.62 526.59 L633.66 526.60 L634.70 526.62 L634.96 526.62" fill="none" stroke="#000" stroke-width="3.80"/>
<path d="M643.21 526.71 L644.04 526.72 L645.08 526.73 L646.12 526.74 L647.15 526.75 L648.19 526.76 L649.23 526.78 L650.27 526.79 L651.30 526.80 L652.34 526.81 L653.38 526.82 L654.42 526.83 L655.46 526.84 L655.81 526.84" fill="none" stroke="#000" stroke-width="3.80"/>
<path d="M664.06 526.93 L664.80 526.93 L665.83 526.95 L666.87 526.96 L667.91 526.97 L668.95 526.98 L669.98 526.99 L671.02 527.00 L672.06 527.01 L673.10 527.02 L674.14 527.03 L675.17 527.04 L676.21 527.05 L676.66 527.05" fill="none" stroke="#000" stroke-width="3.80"/>
<path d="M684.91 527.13 L685.55 527.13 L686.59 527.14 L687.63 527.15 L688.66 527.16 L689.70 527.17 L690.74 527.18 L691.78 527.19 L692.82 527.20 L693.85 527.21 L694.89 527.22 L695.93 527.23 L696.97 527.24 L697.51 527.24" fill="none" stroke="#000" stroke-width="3.60"/>
<path d="M705.76 527.31 L706.31 527.32 L707.34 527.33 L708.38 527.34 L709.42 527.34 L710.46 527.35 L711.49 527.36 L712.53 527.37 L713.57 527.38 L714.61 527.39 L715.65 527.40 L716.68 527.41 L717.72 527.42 L718.36 527.42" fill="none" stroke="#000" stroke-width="1.50"/>
<path d="M726.61 527.49 L727.06 527.49 L728.10 527.50 L729.14 527.51 L730.17 527.52 L731.21 527.53 L732.25 527.54 L733.29 527.54 L734.33 527.55 L735.36 527.56 L736.40 527.57 L737.44 527.58 L738.48 527.59 L739.21 527.59" fill="none" stroke="#000" stroke-width="1.50"/>
<path d="M747.46 527.66 L747.82 527.66 L748.85 527.67 L749.89 527.68 L750.93 527.69 L751.97 527.69 L753.01 527.70 L754.04 527.71 L755.08 527.72 L756.12 527.73 L757.16 527.74" fill="none" stroke="#000" stroke-width="1.50"/>
<path d="M113.10 355.90 L113.10 374.50 L109.40 374.50 L109.40 361.70 L105.00 361.70 L105.00 359.50 L106.98 359.50 C108.30 359.40 109.10 358.06 109.60 355.90 Z" fill="#000"/>
<path d="M116.70 670.20 L116.70 688.30 L113.30 688.30 L113.30 675.00 L108.90 675.00 L108.90 672.20 L110.88 672.20 C112.20 672.10 113.00 671.40 113.50 670.20 Z" fill="#000"/>
<path d="M459.70 697.70 L459.70 714.60 L457.50 714.60 L457.50 702.50 L454.10 702.50 L454.10 699.90 L455.63 699.90 C456.65 699.80 457.20 699.02 457.70 697.70 Z" fill="#000"/>
<path d="M761.60 700.20 L761.60 718.40 L759.00 718.40 L759.00 705.30 L753.40 705.30 L753.40 702.30 L755.92 702.30 C757.60 702.20 758.70 701.46 759.20 700.20 Z" fill="#000"/>
<!-- y tick labels -->
<text class="sans" stroke-width="1.1" transform="translate(101.9,61.8) scale(1.10,1)">3</text>
<text class="sans" stroke-width="1.2" transform="translate(102.0,218.6) scale(1.10,1)">2</text>
<text class="sans" stroke-width="0.5" transform="translate(102.8,529.7) scale(1.03,1)" font-size="24">0</text>
<rect x="89.4" y="678.9" width="14.2" height="3.2" fill="#000"/>
<!-- x tick labels -->
<text class="sans" stroke-width="0.9" transform="translate(136.0,711.8) scale(1.10,1)">3</text>
<rect x="120.4" y="702.4" width="16.2" height="3.2" fill="#000"/>
<text class="sans" stroke-width="1.2" transform="translate(293.5,714.6) scale(1.10,1)">2</text>
<rect x="276.5" y="702.6" width="15.7" height="3.4" fill="#000"/>
<rect x="432" y="705.2" width="16.8" height="3.6" fill="#000"/>
<text class="sans" stroke-width="0.9" transform="translate(594.8,715.8) scale(1.03,1)" font-size="25.5">0</text>
<!-- axis titles -->
<g class="serifb" font-size="41.2">
<text x="342.3" y="758.5" textLength="12.37" lengthAdjust="spacingAndGlyphs">l</text>
<text x="354.5" y="758.5" textLength="21.8" lengthAdjust="spacingAndGlyphs">o</text>
<text x="376.6" y="758.5" textLength="21.84" lengthAdjust="spacingAndGlyphs">g</text>
<text x="400.3" y="758.5" textLength="13.72" lengthAdjust="spacingAndGlyphs">(</text>
<text x="413.5" y="758.5" textLength="12.35" lengthAdjust="spacingAndGlyphs">t</text>
<text x="426.3" y="758.5" textLength="16.46" lengthAdjust="spacingAndGlyphs">&quot;</text>
<text x="441.7" y="758.5" textLength="14.54" lengthAdjust="spacingAndGlyphs">(</text>
<text x="456.5" y="758.5" textLength="23.82" lengthAdjust="spacingAndGlyphs">d</text>
<text x="479.7" y="758.5" textLength="20.60" lengthAdjust="spacingAndGlyphs">a</text>
<text x="499.5" y="758.5" textLength="21.42" lengthAdjust="spacingAndGlyphs">y</text>
<text x="522.0" y="758.5" textLength="16.03" lengthAdjust="spacingAndGlyphs">s</text>
<text x="536.6" y="758.5" textLength="14.54" lengthAdjust="spacingAndGlyphs">)</text>
<text x="551.2" y="758.5" textLength="16.0" lengthAdjust="spacingAndGlyphs">)</text>
</g>
<g transform="translate(71.0,491.5) rotate(-90)" class="serifb" font-size="46">
<text x="-0.6" y="0">l</text>
<text x="12.4" y="0">o</text>
<text x="36.0" y="0">g</text>
<text x="57.4" y="0">(</text>
<text x="83.4" y="0" textLength="33.6" lengthAdjust="spacingAndGlyphs">N</text>
<text x="125.0" y="0">/</text>
<text x="151.6" y="0" textLength="15.5" lengthAdjust="spacingAndGlyphs">1</text>
<text x="170.6" y="0">0</text>
<text x="195.3" y="-18.7" font-size="36">47</text>
<text x="235.6" y="0">)</text>
</g>
<!-- curve labels -->
<text class="serif" font-size="43" x="258.3" y="378.2" stroke="#000" stroke-width="1.3">N</text>
<text class="serif" font-size="36" x="290" y="391.4" textLength="104.5" lengthAdjust="spacingAndGlyphs" stroke="#000" stroke-width="0.7">leptons</text>
<text class="serif" font-size="44.5" x="215.2" y="589.8" stroke="#000" stroke-width="1.4">N</text>
<text class="serif" font-size="36" x="247.6" y="604.2" stroke="#000" stroke-width="1.0">ions</text>
<text class="serifb" font-size="44" x="476" y="508.4">f</text>
<text class="serif" font-size="38" x="488.2" y="521.4" stroke="#000" stroke-width="1.0">li</text>
</svg>
</body></html>
